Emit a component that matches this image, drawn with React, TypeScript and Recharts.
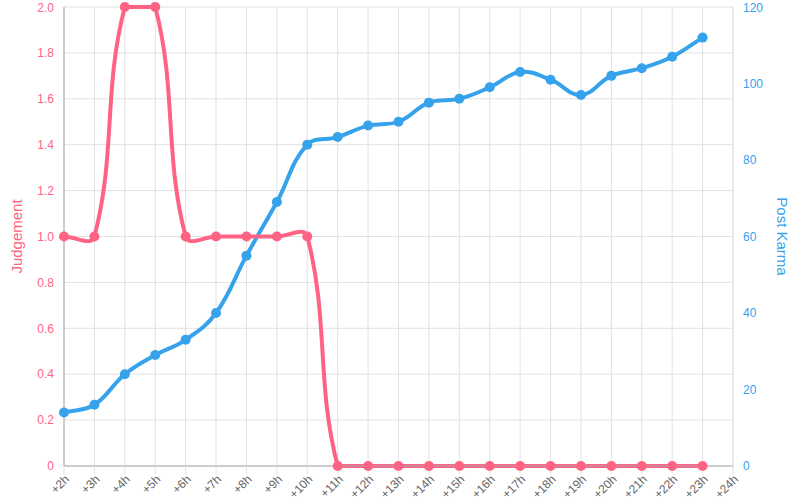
import React from "react";
import {
  LineChart,
  Line,
  XAxis,
  YAxis,
  CartesianGrid,
} from "recharts";

const hours = [
  "+2h", "+3h", "+4h", "+5h", "+6h", "+7h", "+8h", "+9h", "+10h", "+11h", "+12h", "+13h",
  "+14h", "+15h", "+16h", "+17h", "+18h", "+19h", "+20h", "+21h", "+22h", "+23h", "+24h",
];
const judgement = [1, 1, 2, 2, 1, 1, 1, 1, 1, 0, 0, 0, 0, 0, 0, 0, 0, 0, 0, 0, 0, 0];
const postKarma = [14, 16, 24, 29, 33, 40, 55, 69, 84, 86, 89, 90, 95, 96, 99, 103, 101, 97, 102, 104, 107, 112];
const judgementTicks = [0, 0.2, 0.4, 0.6, 0.8, 1, 1.2, 1.4, 1.6, 1.8, 2];
const karmaTicks = [0, 20, 40, 60, 80, 100, 120];

const RED = "#ff6384";
const BLUE = "#36a2eb";
const GRID = "#e1e1e1";

const WIDTH = 800;
const HEIGHT = 500;
const MARGIN = { top: 7, right: 0, bottom: 0, left: 0 };
const X_AXIS_HEIGHT = 34;
const PLOT_TOP = MARGIN.top;
const PLOT_BOTTOM = HEIGHT - MARGIN.bottom - X_AXIS_HEIGHT;

// chart.js style spline (tension 0.4, control points capped to the plot area)
const TENSION = 0.4;
function splineCurve(context: any) {
  let pts: [number, number][] = [];
  const cap = (v: number) => Math.max(PLOT_TOP, Math.min(PLOT_BOTTOM, v));
  return {
    areaStart() {},
    areaEnd() {},
    lineStart() {
      pts = [];
    },
    point(x: number, y: number) {
      pts.push([+x, +y]);
    },
    lineEnd() {
      const n = pts.length;
      if (!n) return;
      context.moveTo(pts[0][0], pts[0][1]);
      if (n === 1) return;
      const cps = pts.map((p, i) => {
        const prev = pts[Math.max(i - 1, 0)];
        const next = pts[Math.min(i + 1, n - 1)];
        const d01 = Math.hypot(p[0] - prev[0], p[1] - prev[1]);
        const d12 = Math.hypot(next[0] - p[0], next[1] - p[1]);
        let s01 = d01 / (d01 + d12);
        let s12 = d12 / (d01 + d12);
        if (isNaN(s01)) s01 = 0;
        if (isNaN(s12)) s12 = 0;
        const fa = TENSION * s01;
        const fb = TENSION * s12;
        return {
          px: p[0] - fa * (next[0] - prev[0]),
          py: cap(p[1] - fa * (next[1] - prev[1])),
          nx: p[0] + fb * (next[0] - prev[0]),
          ny: cap(p[1] + fb * (next[1] - prev[1])),
        };
      });
      for (let i = 1; i < n; i++) {
        context.bezierCurveTo(cps[i - 1].nx, cps[i - 1].ny, cps[i].px, cps[i].py, pts[i][0], pts[i][1]);
      }
    },
  };
}

const data = hours.map((h, i) => ({
  hour: h,
  judgement: judgement[i],
  karma: postKarma[i],
}));

const fmtJudgement = (v: number) => (v === 0 ? "0" : v.toFixed(1));

export default function App() {
  return (
    <div
      style={{
        position: "absolute",
        left: 0,
        top: 0,
        width: WIDTH,
        height: HEIGHT,
        fontFamily: "'Liberation Sans', Arial, sans-serif",
        background: "#fff",
      }}
    >
      <LineChart width={WIDTH} height={HEIGHT} data={data} margin={MARGIN}>
        <CartesianGrid stroke={GRID} yAxisId="left" />
        <XAxis
          dataKey="hour"
          height={X_AXIS_HEIGHT}
          interval={0}
          angle={-45}
          textAnchor="end"
          tick={{ fill: "#666", fontSize: 12 }}
          tickSize={8}
          tickMargin={0}
          tickLine={{ stroke: GRID }}
          axisLine={{ stroke: "#a8a8a8" }}
        />
        <YAxis
          yAxisId="left"
          width={64}
          domain={[0, 2]}
          ticks={judgementTicks}
          tickFormatter={fmtJudgement}
          tick={{ fill: RED, fontSize: 12 }}
          tickLine={false}
          tickSize={8}
          tickMargin={2}
          axisLine={{ stroke: "#a8a8a8" }}
          label={{
            value: "Judgement",
            angle: -90,
            position: "center",
            dx: -15,
            fill: RED,
            fontSize: 15,
          }}
        />
        <YAxis
          yAxisId="right"
          orientation="right"
          width={67}
          domain={[0, 120]}
          ticks={karmaTicks}
          tick={{ fill: BLUE, fontSize: 12 }}
          tickLine={false}
          tickSize={8}
          tickMargin={2}
          axisLine={{ stroke: GRID }}
          label={{
            value: "Post Karma",
            angle: 90,
            position: "center",
            dx: 16,
            fill: BLUE,
            fontSize: 15,
          }}
        />
        <Line
          yAxisId="right"
          dataKey="karma"
          type={splineCurve as any}
          stroke={BLUE}
          strokeWidth={4}
          dot={{ r: 5, fill: BLUE, stroke: BLUE, strokeWidth: 0 }}
          activeDot={false}
          isAnimationActive={false}
        />
        <Line
          yAxisId="left"
          dataKey="judgement"
          type={splineCurve as any}
          stroke={RED}
          strokeWidth={4}
          dot={{ r: 5, fill: RED, stroke: RED, strokeWidth: 0 }}
          activeDot={false}
          isAnimationActive={false}
        />
      </LineChart>
    </div>
  );
}
